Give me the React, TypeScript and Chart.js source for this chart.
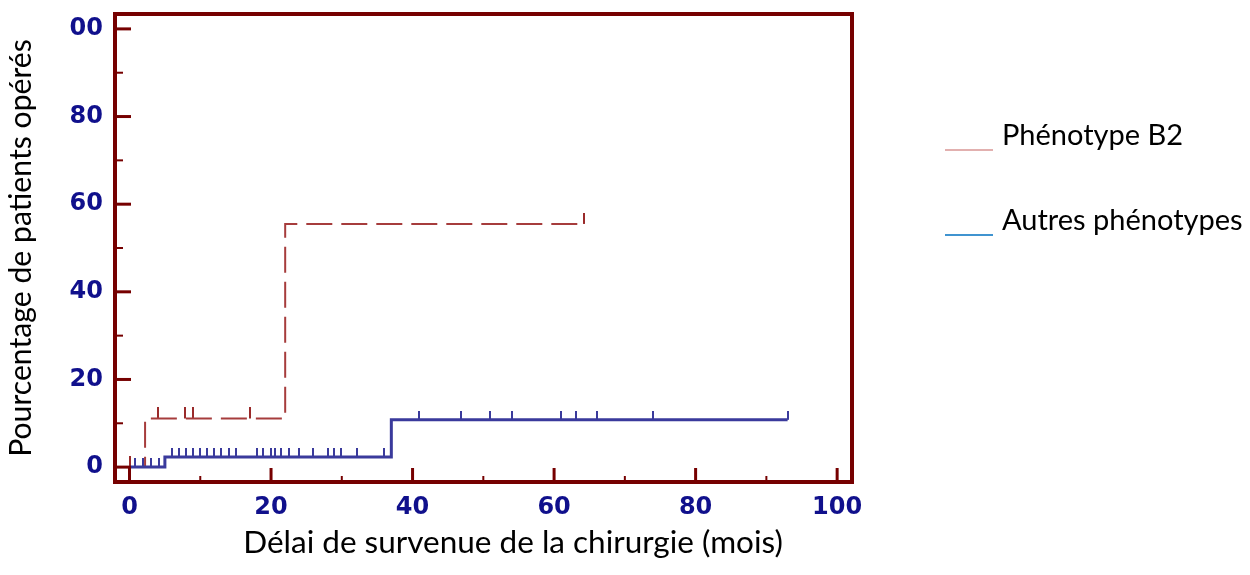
import React, { useEffect, useRef } from 'react';
import { Chart, registerables } from 'chart.js';

Chart.register(...registerables);

// ---- data ----
const xMajorTicks = [0, 20, 40, 60, 80, 100];
const xMinorTicks = [10, 30, 50, 70, 90];
const xTickLabels = ['0', '20', '40', '60', '80', '100'];
const yMajorTicks = [0, 20, 40, 60, 80, 100];
const yMinorTicks = [10, 30, 50, 70, 90];
const yTickLabels = ['0', '20', '40', '60', '80', '00'];

// Phénotype B2 (step curve)
const b2Times = [0, 2.2, 22, 64.2];
const b2Values = [0, 11.1, 55.5, 55.5];
const b2CensorTimes = [0, 4.0, 7.9, 9.0, 17.0, 64.2];
const b2CensorValues = [0, 11.1, 11.1, 11.1, 11.1, 55.5];

// Autres phénotypes (step curve)
const otherTimes = [0, 5, 37, 93];
const otherValues = [0, 2.3, 10.8, 10.8];
const otherCensorTimes = [
  0.8, 1.9, 3.1, 4.1,
  6, 7, 8, 9, 10, 11, 12, 13, 14, 15,
  18, 18.8, 20, 20.6, 21.4, 22.5, 23.9, 25.9, 28.1, 28.9, 29.9, 32.1, 36,
  40.9, 46.9, 50.9, 54.1, 61.0, 63.1, 66.0, 74.0, 93,
];
const otherCensorValues = [
  0, 0, 0, 0,
  2.3, 2.3, 2.3, 2.3, 2.3, 2.3, 2.3, 2.3, 2.3, 2.3,
  2.3, 2.3, 2.3, 2.3, 2.3, 2.3, 2.3, 2.3, 2.3, 2.3, 2.3, 2.3, 2.3,
  10.8, 10.8, 10.8, 10.8, 10.8, 10.8, 10.8, 10.8, 10.8, 10.8,
];

const seriesNames = ['Phénotype B2', 'Autres phénotypes'];
const xTitle = 'Délai de survenue de la chirurgie (mois)';
const yTitle = 'Pourcentage de patients opérés';

// ---- styles ----
const AXIS_COLOR = '#760000';
const TICK_LABEL_COLOR = '#10108c';
const B2_COLOR = '#a63c3c';
const B2_CENSOR_COLOR = '#9a2a2a';
const OTHER_COLOR = '#3a3a9c';
const LEGEND_B2 = '#d99694';
const LEGEND_OTHER = '#0070c0';
const TEXT_FONT = 'Lato, "Open Sans", sans-serif';

function makeTick(color: string, len: number, width: number) {
  const c = document.createElement('canvas');
  c.width = width;
  c.height = len * 2;
  const g = c.getContext('2d')!;
  g.fillStyle = color;
  g.fillRect(0, 0, width, len);
  return c;
}

const framePlugin = {
  id: 'frame',
  afterDatasetsDraw(chart: any) {
    const { ctx, chartArea: a, scales } = chart;
    const x = scales.x;
    const y = scales.y;
    ctx.save();
    ctx.strokeStyle = AXIS_COLOR;
    ctx.lineCap = 'butt';
    const drawX = (v: number, len: number, w: number) => {
      const px = x.getPixelForValue(v);
      ctx.lineWidth = w;
      ctx.beginPath();
      ctx.moveTo(px, a.bottom);
      ctx.lineTo(px, a.bottom - len);
      ctx.stroke();
    };
    const drawY = (v: number, len: number, w: number) => {
      const py = y.getPixelForValue(v);
      ctx.lineWidth = w;
      ctx.beginPath();
      ctx.moveTo(a.left, py);
      ctx.lineTo(a.left + len, py);
      ctx.stroke();
    };
    xMajorTicks.forEach((v) => drawX(v, 14, 3));
    xMinorTicks.forEach((v) => drawX(v, 6, 2));
    yMajorTicks.forEach((v) => drawY(v, 16, 3));
    yMinorTicks.forEach((v) => drawY(v, 8, 2));
    ctx.lineWidth = 4;
    ctx.strokeRect(a.left, a.top, a.right - a.left, a.bottom - a.top);
    ctx.restore();
  },
};

const textPlugin = {
  id: 'texts',
  afterDraw(chart: any) {
    const { ctx } = chart;
    ctx.save();
    ctx.fillStyle = '#000';
    ctx.textBaseline = 'alphabetic';
    ctx.textAlign = 'center';
    ctx.font = `31.5px ${TEXT_FONT}`;
    ctx.fillText(xTitle, 513, 553);
    ctx.save();
    ctx.font = `30.2px ${TEXT_FONT}`;
    ctx.translate(31, 248);
    ctx.rotate(-Math.PI / 2);
    ctx.fillText(yTitle, 0, 0);
    ctx.restore();
    // legend
    ctx.textAlign = 'left';
    ctx.font = `29px ${TEXT_FONT}`;
    ctx.fillText(seriesNames[0], 1002, 145);
    ctx.fillText(seriesNames[1], 1002, 230);
    ctx.lineWidth = 1.5;
    ctx.strokeStyle = LEGEND_B2;
    ctx.beginPath();
    ctx.moveTo(945, 150);
    ctx.lineTo(993, 150);
    ctx.stroke();
    ctx.strokeStyle = LEGEND_OTHER;
    ctx.beginPath();
    ctx.moveTo(945, 235);
    ctx.lineTo(993, 235);
    ctx.stroke();
    ctx.restore();
  },
};

export default function App() {
  const ref = useRef<HTMLCanvasElement>(null);

  useEffect(() => {
    const canvas = ref.current!;
    const otherTick = makeTick(OTHER_COLOR, 9, 2);
    const b2Tick = makeTick(B2_CENSOR_COLOR, 11, 2);
    const toPts = (xs: number[], ys: number[]) => xs.map((t, i) => ({ x: t, y: ys[i] }));

    const chart = new Chart(canvas, {
      type: 'line',
      data: {
        datasets: [
          {
            label: seriesNames[1],
            data: toPts(otherTimes, otherValues),
            borderColor: OTHER_COLOR,
            borderWidth: 3,
            stepped: 'before',
            pointRadius: 0,
            fill: false,
          },
          {
            label: seriesNames[1] + ' censure',
            data: toPts(otherCensorTimes, otherCensorValues),
            showLine: false,
            pointStyle: otherTick as any,
            pointRadius: 3,
          },
          {
            label: seriesNames[0],
            data: toPts(b2Times, b2Values),
            borderColor: B2_COLOR,
            borderWidth: 2,
            borderDash: [26, 9],
            stepped: 'before',
            pointRadius: 0,
            fill: false,
          },
          {
            label: seriesNames[0] + ' censure',
            data: toPts(b2CensorTimes, b2CensorValues),
            showLine: false,
            pointStyle: b2Tick as any,
            pointRadius: 3,
          },
        ],
      },
      options: {
        responsive: false,
        animation: false,
        events: [],
        layout: { padding: { left: 0, top: 14, right: 398, bottom: 0 } },
        plugins: { legend: { display: false }, tooltip: { enabled: false } },
        scales: {
          x: {
            type: 'linear',
            min: -2.05,
            max: 102.1,
            grid: { display: false, drawTicks: false },
            border: { display: false },
            afterBuildTicks: (s: any) => {
              s.ticks = xMajorTicks.map((v) => ({ value: v }));
            },
            afterFit: (s: any) => {
              s.height = 93;
              s.paddingLeft = 0;
              s.paddingRight = 0;
            },
            ticks: {
              padding: 11,
              color: TICK_LABEL_COLOR,
              font: { family: '"DejaVu Sans"', size: 24, weight: 'bold' },
              maxRotation: 0,
              autoSkip: false,
              callback: (v: any) => xTickLabels[xMajorTicks.indexOf(Number(v))],
            },
          },
          y: {
            type: 'linear',
            min: -3.4,
            max: 103.4,
            grid: { display: false, drawTicks: false },
            border: { display: false },
            afterBuildTicks: (s: any) => {
              s.ticks = yMajorTicks.map((v) => ({ value: v }));
            },
            afterFit: (s: any) => {
              s.width = 115;
              s.paddingTop = 0;
              s.paddingBottom = 0;
            },
            ticks: {
              padding: 12,
              color: TICK_LABEL_COLOR,
              font: { family: '"DejaVu Sans"', size: 24, weight: 'bold' },
              autoSkip: false,
              callback: (v: any) => yTickLabels[yMajorTicks.indexOf(Number(v))],
            },
          },
        },
      } as any,
      plugins: [framePlugin, textPlugin],
    });
    return () => chart.destroy();
  }, []);

  return (
    <div style={{ position: 'fixed', left: 0, top: 0, width: 1250, height: 575, background: '#fff' }}>
      <canvas ref={ref} width={1250} height={575} style={{ display: 'block' }} />
    </div>
  );
}
